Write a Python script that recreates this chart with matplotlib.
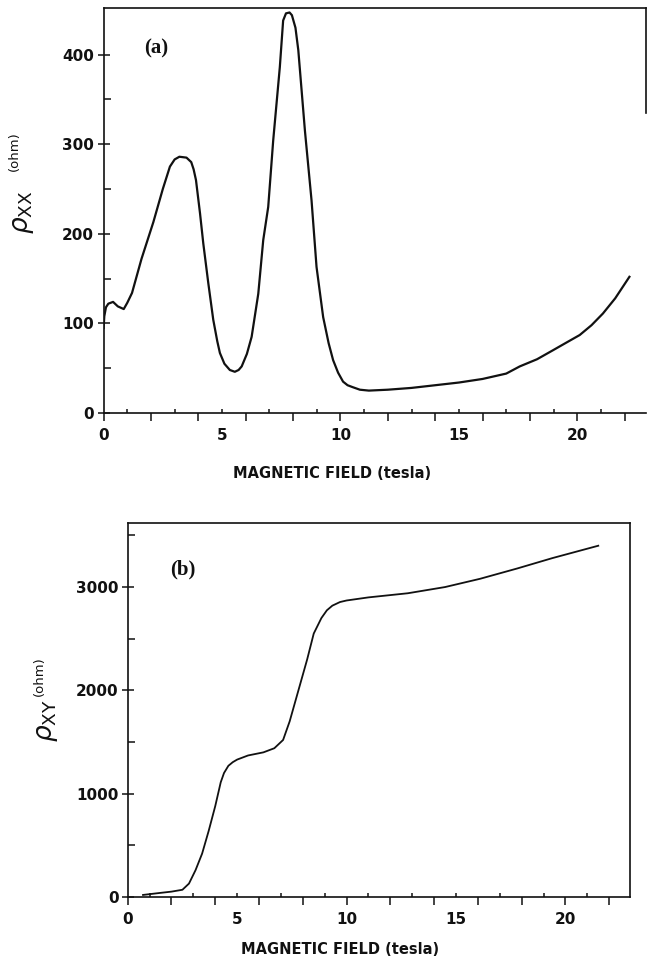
import matplotlib
matplotlib.use("Agg")
import matplotlib.pyplot as plt

# ---------------- data ----------------
a_field = [0.0, 0.03, 0.1, 0.2, 0.4, 0.6, 0.85, 1.0, 1.2, 1.6, 2.1, 2.5, 2.8, 3.0, 3.2,
           3.5, 3.7, 3.8, 3.9, 4.07, 4.21, 4.42, 4.63, 4.8, 4.91, 5.1, 5.33, 5.54, 5.7,
           5.83, 6.05, 6.25, 6.53, 6.74, 6.95, 7.16, 7.44, 7.58, 7.7, 7.85, 7.95, 8.1,
           8.22, 8.5, 8.78, 8.99, 9.27, 9.5, 9.69, 9.9, 10.11, 10.3, 10.5, 10.82, 11.2,
           12, 13, 14, 15, 16, 17, 17.57, 18.3, 18.97, 19.5, 20.1, 20.6, 21.08, 21.6,
           22.2]
rho_xx = [95, 108, 118, 122, 124, 119, 116, 123, 134, 172, 213, 250, 275, 283, 286,
          285, 280, 272, 260, 223, 189, 145, 104, 80, 67, 55, 48, 46, 48,
          52, 66, 85, 133, 193, 230, 304, 386, 438, 446, 447, 444, 430,
          405, 315, 237, 163, 107, 78, 59, 45, 35, 31, 29, 26, 25,
          26, 28, 31, 34, 38, 44, 52, 60, 70, 78, 87, 98, 111, 128,
          152]

b_field = [0.7, 1.5, 2.0, 2.5, 2.8, 3.1, 3.4, 3.7, 4.0, 4.25, 4.4, 4.6, 4.8, 5.0, 5.5,
           6.2, 6.7, 7.1, 7.4, 7.8, 8.2, 8.5, 8.85, 9.1, 9.35, 9.7, 10.0, 11.0, 12.8,
           14.5, 16.1, 17.8, 19.4, 21.5]
rho_xy = [20, 40, 52, 70, 130, 260, 420, 640, 880, 1110, 1200, 1270, 1305, 1330, 1370,
          1400, 1440, 1520, 1700, 2000, 2300, 2550, 2700, 2775, 2820, 2855, 2870, 2900, 2940,
          3000, 3080, 3180, 3280, 3400]

x_major = list(range(0, 23, 2))
x_minor = list(range(1, 23, 2))
x_labels = [0, 5, 10, 15, 20]
a_yticks = [0, 100, 200, 300, 400]
a_yminor = [50, 150, 250, 350]
b_yticks = [0, 1000, 2000, 3000]
b_yminor = [500, 1500, 2500, 3500]

INK = "#111111"
TICKFONT = dict(family="DejaVu Sans", weight="bold", size=11)
LABFONT = dict(family="DejaVu Sans", weight="bold", size=10.5)

fig = plt.figure(figsize=(6.47, 9.57), dpi=100)
W, H = 647, 957


def px_axes(l, r, t, b):
    return fig.add_axes([l / W, 1 - b / H, (r - l) / W, (b - t) / H])


def style(ax, xlim, ylim, yt, ym, xlabpos, xlab_y, ypad):
    ax.set_xlim(*xlim)
    ax.set_ylim(*ylim)
    ax.set_xticks(x_major)
    ax.set_xticks(x_minor, minor=True)
    ax.set_xticklabels([])
    ax.set_yticks(yt)
    ax.set_yticks(ym, minor=True)
    ax.set_yticklabels([str(v) for v in yt], fontdict=TICKFONT)
    ax.tick_params(axis="x", which="major", direction="out", length=6, width=1.1, color=INK)
    ax.tick_params(axis="x", which="minor", direction="in", length=3, width=1.1, color=INK)
    ax.tick_params(axis="y", which="major", direction="inout", length=8, width=1.1,
                   color=INK, pad=ypad, labelcolor=INK)
    ax.tick_params(axis="y", which="minor", direction="in", length=5, width=1.1, color=INK)
    for s in ax.spines.values():
        s.set_linewidth(1.2)
        s.set_color(INK)
    sec = ax.secondary_xaxis("bottom")
    sec.set_xticks(x_labels)
    sec.set_xticklabels([str(v) for v in x_labels], fontdict=TICKFONT)
    sec.tick_params(length=0, pad=11, labelcolor=INK)
    sec.spines["bottom"].set_visible(False)
    ax.set_xlabel("MAGNETIC FIELD (tesla)", fontdict=LABFONT, color=INK)
    ax.xaxis.set_label_coords(xlabpos, xlab_y)


# ---------------- panel (a) ----------------
ax1 = px_axes(103.6, 646, 8, 413)
ax1.plot(a_field, rho_xx, color=INK, lw=1.6, solid_joinstyle="round")
style(ax1, (0, 22.9), (0, 452), a_yticks, a_yminor, 0.421, -0.131, 3.0)
ax1.spines["right"].set_bounds(335, 452)
ax1.text(0.075, 0.90, "(a)", transform=ax1.transAxes, ha="left", va="center",
         family="Liberation Serif", weight="bold", size=15, color=INK)

# ---------------- panel (b) ----------------
ax2 = px_axes(127.7, 630, 523, 897)
ax2.plot(b_field, rho_xy, color=INK, lw=1.3, solid_joinstyle="round")
style(ax2, (0, 22.95), (0, 3620), b_yticks, b_yminor, 0.423, -0.120, 2.5)
ax2.text(0.085, 0.875, "(b)", transform=ax2.transAxes, ha="left", va="center",
         family="Liberation Serif", weight="bold", size=15, color=INK)

# ---------------- y labels ----------------
def ylab(xc, yc, sub, xo, yo):
    fig.text(xc / W, 1 - yc / H, r"$\rho_{\mathsf{" + sub + "}}$", rotation=90,
             ha="center", va="center", size=19, color=INK)
    fig.text(xo / W, 1 - yo / H, "(ohm)", rotation=90, ha="center", va="center",
             family="DejaVu Sans", size=9.5, color=INK)


ylab(23, 212, "XX", 14, 151)
ylab(47, 721, "XY", 39, 676)

fig.savefig("out.png", dpi=100)
